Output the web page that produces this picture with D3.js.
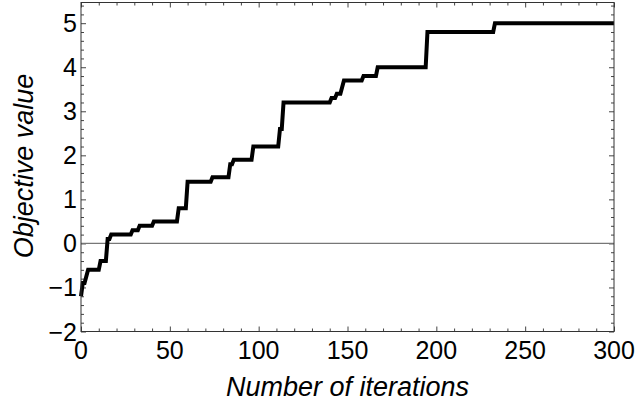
<!DOCTYPE html>
<html>
<head>
<meta charset="utf-8">
<script src="https://cdn.jsdelivr.net/npm/d3@7"></script>
<style>
  html, body { margin: 0; padding: 0; background: #fff; }
  svg { display: block; }
  text { font-family: "Liberation Sans", Arial, sans-serif; fill: #000; }
</style>
</head>
<body>
<svg id="chart" width="636" height="403"></svg>
<script>
// Best objective value found so far, recorded at the iterations where it changes
const iterations = [0, 1, 2, 4, 10, 11, 14, 15, 16, 17, 28, 29, 32, 33, 40, 41, 54, 55, 59, 60,
  73, 74, 83, 84, 85, 86, 96, 97, 111, 112, 113, 114, 140, 141, 143, 144, 146, 148, 158, 159,
  166, 167, 194, 195, 232, 233, 300];
const objective = [-1.2, -0.9, -0.9, -0.6, -0.6, -0.4, -0.4, 0.1, 0.1, 0.2, 0.2, 0.3, 0.3, 0.4, 0.4, 0.5, 0.5, 0.8, 0.8, 1.4,
  1.4, 1.5, 1.5, 1.8, 1.8, 1.9, 1.9, 2.2, 2.2, 2.6, 2.6, 3.2, 3.2, 3.3, 3.3, 3.4, 3.4, 3.7, 3.7, 3.8,
  3.8, 4.0, 4.0, 4.8, 4.8, 5.0, 5.0];

const xMajorTicks = [0, 50, 100, 150, 200, 250, 300];
const yMajorTicks = [-2, -1, 0, 1, 2, 3, 4, 5];
const xTitle = "Number of iterations";
const yTitle = "Objective value";

const svg = d3.select("#chart");
const mLeft = 81, mRight = 614, mTop = 2.5, mBottom = 331.5;

const x = d3.scaleLinear().domain([0, 300]).range([mLeft, mRight]);
const y = d3.scaleLinear().domain([-2, 5.47]).range([mBottom, mTop]);

const xMinor = d3.range(0, 301, 10).filter(v => v % 50 !== 0);
const yMinor = d3.range(-20, 55, 2).map(v => v / 10).filter(v => Math.abs(v - Math.round(v)) > 1e-9);

const tickColor = "#444";
const fmt = v => (v < 0 ? "\u2212" + Math.abs(v) : String(v));

// Frame ticks pointing inward on all four sides
function frameAxis(axisFn, scale, ticks, size, transform) {
  const g = svg.append("g")
    .attr("transform", transform)
    .call(axisFn(scale).tickValues(ticks).tickSizeInner(-size).tickSizeOuter(0).tickFormat(""));
  g.select(".domain").remove();
  g.selectAll("line").attr("stroke", tickColor).attr("stroke-width", 1);
  return g;
}

frameAxis(d3.axisBottom, x, xMajorTicks, 5, `translate(0,${mBottom})`);
frameAxis(d3.axisBottom, x, xMinor, 3, `translate(0,${mBottom})`);
frameAxis(d3.axisTop, x, xMajorTicks, 5, `translate(0,${mTop})`);
frameAxis(d3.axisTop, x, xMinor, 3, `translate(0,${mTop})`);
frameAxis(d3.axisLeft, y, yMajorTicks, 5, `translate(${mLeft},0)`);
frameAxis(d3.axisLeft, y, yMinor, 3, `translate(${mLeft},0)`);
frameAxis(d3.axisRight, y, yMajorTicks, 5, `translate(${mRight},0)`);
frameAxis(d3.axisRight, y, yMinor, 3, `translate(${mRight},0)`);

// Tick labels
svg.append("g").selectAll("text").data(xMajorTicks).join("text")
  .attr("x", d => x(d))
  .attr("y", 359)
  .attr("text-anchor", "middle")
  .attr("font-size", 25)
  .text(fmt);

svg.append("g").selectAll("text").data(yMajorTicks).join("text")
  .attr("x", 77)
  .attr("y", d => y(d) + 9)
  .attr("text-anchor", "end")
  .attr("font-size", 25)
  .text(fmt);

// Zero reference line
svg.append("line")
  .attr("x1", mLeft).attr("x2", mRight)
  .attr("y1", y(0)).attr("y2", y(0))
  .attr("stroke", "#777").attr("stroke-width", 1.2);

// Objective curve
const pts = iterations.map((it, i) => [it, objective[i]]);
svg.append("path")
  .datum(pts)
  .attr("fill", "none")
  .attr("stroke", "#000")
  .attr("stroke-width", 4)
  .attr("stroke-linejoin", "miter")
  .attr("d", d3.line().x(d => x(d[0])).y(d => y(d[1])));

// Frame
svg.append("rect")
  .attr("x", mLeft).attr("y", mTop)
  .attr("width", mRight - mLeft).attr("height", mBottom - mTop)
  .attr("fill", "none").attr("stroke", "#333").attr("stroke-width", 1);

// Axis titles
svg.append("text")
  .attr("x", (mLeft + mRight) / 2)
  .attr("y", 396)
  .attr("text-anchor", "middle")
  .attr("font-size", 27)
  .attr("font-style", "italic")
  .text(xTitle);

svg.append("text")
  .attr("transform", `translate(33,166) rotate(-90)`)
  .attr("text-anchor", "middle")
  .attr("font-size", 27)
  .attr("font-style", "italic")
  .text(yTitle);
</script>
</body>
</html>
